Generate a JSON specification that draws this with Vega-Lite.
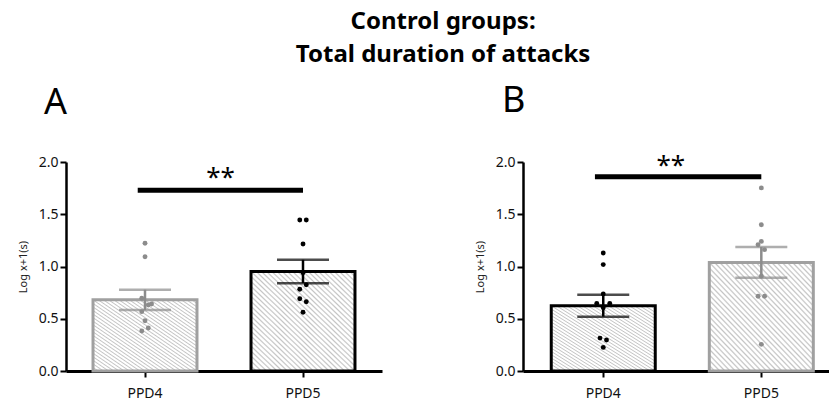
{
  "$schema": "https://vega.github.io/schema/vega-lite/v6.json",
  "background": "white",
  "padding": {"left": 17, "top": 10, "right": 0, "bottom": 0},
  "config": {
    "font": "Noto Sans",
    "view": {"stroke": null},
    "axis": {
      "grid": false,
      "domainColor": "#000000",
      "tickColor": "#000000",
      "labelColor": "#111111",
      "labelFont": "Noto Sans",
      "labelFontSize": 14,
      "titleFont": "Noto Sans",
      "titleFontSize": 11,
      "titleFontWeight": "normal",
      "titleColor": "#222222"
    },
    "bar": {
      "fill": {
        "gradient": "linear",
        "x1": 0, "y1": 1, "x2": 1, "y2": 0,
        "stops": [
          {"offset": 0, "color": "#c4c4c4"}, {"offset": 0.008, "color": "#ffffff"}, {"offset": 0.017, "color": "#ffffff"},
          {"offset": 0.025, "color": "#c4c4c4"}, {"offset": 0.033, "color": "#ffffff"}, {"offset": 0.042, "color": "#ffffff"},
          {"offset": 0.05, "color": "#c4c4c4"}, {"offset": 0.058, "color": "#ffffff"}, {"offset": 0.067, "color": "#ffffff"},
          {"offset": 0.075, "color": "#c4c4c4"}, {"offset": 0.083, "color": "#ffffff"}, {"offset": 0.092, "color": "#ffffff"},
          {"offset": 0.1, "color": "#c4c4c4"}, {"offset": 0.108, "color": "#ffffff"}, {"offset": 0.117, "color": "#ffffff"},
          {"offset": 0.125, "color": "#c4c4c4"}, {"offset": 0.133, "color": "#ffffff"}, {"offset": 0.142, "color": "#ffffff"},
          {"offset": 0.15, "color": "#c4c4c4"}, {"offset": 0.158, "color": "#ffffff"}, {"offset": 0.167, "color": "#ffffff"},
          {"offset": 0.175, "color": "#c4c4c4"}, {"offset": 0.183, "color": "#ffffff"}, {"offset": 0.192, "color": "#ffffff"},
          {"offset": 0.2, "color": "#c4c4c4"}, {"offset": 0.208, "color": "#ffffff"}, {"offset": 0.217, "color": "#ffffff"},
          {"offset": 0.225, "color": "#c4c4c4"}, {"offset": 0.233, "color": "#ffffff"}, {"offset": 0.242, "color": "#ffffff"},
          {"offset": 0.25, "color": "#c4c4c4"}, {"offset": 0.258, "color": "#ffffff"}, {"offset": 0.267, "color": "#ffffff"},
          {"offset": 0.275, "color": "#c4c4c4"}, {"offset": 0.283, "color": "#ffffff"}, {"offset": 0.292, "color": "#ffffff"},
          {"offset": 0.3, "color": "#c4c4c4"}, {"offset": 0.308, "color": "#ffffff"}, {"offset": 0.317, "color": "#ffffff"},
          {"offset": 0.325, "color": "#c4c4c4"}, {"offset": 0.333, "color": "#ffffff"}, {"offset": 0.342, "color": "#ffffff"},
          {"offset": 0.35, "color": "#c4c4c4"}, {"offset": 0.358, "color": "#ffffff"}, {"offset": 0.367, "color": "#ffffff"},
          {"offset": 0.375, "color": "#c4c4c4"}, {"offset": 0.383, "color": "#ffffff"}, {"offset": 0.392, "color": "#ffffff"},
          {"offset": 0.4, "color": "#c4c4c4"}, {"offset": 0.408, "color": "#ffffff"}, {"offset": 0.417, "color": "#ffffff"},
          {"offset": 0.425, "color": "#c4c4c4"}, {"offset": 0.433, "color": "#ffffff"}, {"offset": 0.442, "color": "#ffffff"},
          {"offset": 0.45, "color": "#c4c4c4"}, {"offset": 0.458, "color": "#ffffff"}, {"offset": 0.467, "color": "#ffffff"},
          {"offset": 0.475, "color": "#c4c4c4"}, {"offset": 0.483, "color": "#ffffff"}, {"offset": 0.492, "color": "#ffffff"},
          {"offset": 0.5, "color": "#c4c4c4"}, {"offset": 0.508, "color": "#ffffff"}, {"offset": 0.517, "color": "#ffffff"},
          {"offset": 0.525, "color": "#c4c4c4"}, {"offset": 0.533, "color": "#ffffff"}, {"offset": 0.542, "color": "#ffffff"},
          {"offset": 0.55, "color": "#c4c4c4"}, {"offset": 0.558, "color": "#ffffff"}, {"offset": 0.567, "color": "#ffffff"},
          {"offset": 0.575, "color": "#c4c4c4"}, {"offset": 0.583, "color": "#ffffff"}, {"offset": 0.592, "color": "#ffffff"},
          {"offset": 0.6, "color": "#c4c4c4"}, {"offset": 0.608, "color": "#ffffff"}, {"offset": 0.617, "color": "#ffffff"},
          {"offset": 0.625, "color": "#c4c4c4"}, {"offset": 0.633, "color": "#ffffff"}, {"offset": 0.642, "color": "#ffffff"},
          {"offset": 0.65, "color": "#c4c4c4"}, {"offset": 0.658, "color": "#ffffff"}, {"offset": 0.667, "color": "#ffffff"},
          {"offset": 0.675, "color": "#c4c4c4"}, {"offset": 0.683, "color": "#ffffff"}, {"offset": 0.692, "color": "#ffffff"},
          {"offset": 0.7, "color": "#c4c4c4"}, {"offset": 0.708, "color": "#ffffff"}, {"offset": 0.717, "color": "#ffffff"},
          {"offset": 0.725, "color": "#c4c4c4"}, {"offset": 0.733, "color": "#ffffff"}, {"offset": 0.742, "color": "#ffffff"},
          {"offset": 0.75, "color": "#c4c4c4"}, {"offset": 0.758, "color": "#ffffff"}, {"offset": 0.767, "color": "#ffffff"},
          {"offset": 0.775, "color": "#c4c4c4"}, {"offset": 0.783, "color": "#ffffff"}, {"offset": 0.792, "color": "#ffffff"},
          {"offset": 0.8, "color": "#c4c4c4"}, {"offset": 0.808, "color": "#ffffff"}, {"offset": 0.817, "color": "#ffffff"},
          {"offset": 0.825, "color": "#c4c4c4"}, {"offset": 0.833, "color": "#ffffff"}, {"offset": 0.842, "color": "#ffffff"},
          {"offset": 0.85, "color": "#c4c4c4"}, {"offset": 0.858, "color": "#ffffff"}, {"offset": 0.867, "color": "#ffffff"},
          {"offset": 0.875, "color": "#c4c4c4"}, {"offset": 0.883, "color": "#ffffff"}, {"offset": 0.892, "color": "#ffffff"},
          {"offset": 0.9, "color": "#c4c4c4"}, {"offset": 0.908, "color": "#ffffff"}, {"offset": 0.917, "color": "#ffffff"},
          {"offset": 0.925, "color": "#c4c4c4"}, {"offset": 0.933, "color": "#ffffff"}, {"offset": 0.942, "color": "#ffffff"},
          {"offset": 0.95, "color": "#c4c4c4"}, {"offset": 0.958, "color": "#ffffff"}, {"offset": 0.967, "color": "#ffffff"},
          {"offset": 0.975, "color": "#c4c4c4"}, {"offset": 0.983, "color": "#ffffff"}, {"offset": 0.992, "color": "#ffffff"},
          {"offset": 1, "color": "#c4c4c4"}
        ]
      }
    }
  },
  "datasets": {
    "pts": [
      {"panel": "A", "day": "PPD4", "group": "G1", "slot": 0, "v": 1.222},
      {"panel": "A", "day": "PPD4", "group": "G1", "slot": 0, "v": 1.094},
      {"panel": "A", "day": "PPD4", "group": "G1", "slot": -1, "v": 0.696},
      {"panel": "A", "day": "PPD4", "group": "G1", "slot": 1, "v": 0.632},
      {"panel": "A", "day": "PPD4", "group": "G1", "slot": 2, "v": 0.641},
      {"panel": "A", "day": "PPD4", "group": "G1", "slot": -1, "v": 0.568},
      {"panel": "A", "day": "PPD4", "group": "G1", "slot": 0, "v": 0.481},
      {"panel": "A", "day": "PPD4", "group": "G1", "slot": 1, "v": 0.411},
      {"panel": "A", "day": "PPD4", "group": "G1", "slot": -1, "v": 0.383},
      {"panel": "A", "day": "PPD5", "group": "G2", "slot": -1, "v": 1.445},
      {"panel": "A", "day": "PPD5", "group": "G2", "slot": 1, "v": 1.445},
      {"panel": "A", "day": "PPD5", "group": "G2", "slot": 0, "v": 1.215},
      {"panel": "A", "day": "PPD5", "group": "G2", "slot": 0, "v": 0.941},
      {"panel": "A", "day": "PPD5", "group": "G2", "slot": 1, "v": 0.826},
      {"panel": "A", "day": "PPD5", "group": "G2", "slot": -1, "v": 0.782},
      {"panel": "A", "day": "PPD5", "group": "G2", "slot": -1, "v": 0.692},
      {"panel": "A", "day": "PPD5", "group": "G2", "slot": 1, "v": 0.663},
      {"panel": "A", "day": "PPD5", "group": "G2", "slot": 0, "v": 0.562},
      {"panel": "B", "day": "PPD4", "group": "G2", "slot": 0, "v": 1.129},
      {"panel": "B", "day": "PPD4", "group": "G2", "slot": 0, "v": 1.018},
      {"panel": "B", "day": "PPD4", "group": "G2", "slot": 0, "v": 0.738},
      {"panel": "B", "day": "PPD4", "group": "G2", "slot": -2, "v": 0.646},
      {"panel": "B", "day": "PPD4", "group": "G2", "slot": 2, "v": 0.646},
      {"panel": "B", "day": "PPD4", "group": "G2", "slot": 0, "v": 0.605},
      {"panel": "B", "day": "PPD4", "group": "G2", "slot": -1, "v": 0.315},
      {"panel": "B", "day": "PPD4", "group": "G2", "slot": 1, "v": 0.296},
      {"panel": "B", "day": "PPD4", "group": "G2", "slot": 0, "v": 0.226},
      {"panel": "B", "day": "PPD5", "group": "G1", "slot": 0, "v": 1.752},
      {"panel": "B", "day": "PPD5", "group": "G1", "slot": 0, "v": 1.399},
      {"panel": "B", "day": "PPD5", "group": "G1", "slot": 0, "v": 1.240},
      {"panel": "B", "day": "PPD5", "group": "G1", "slot": -1, "v": 1.208},
      {"panel": "B", "day": "PPD5", "group": "G1", "slot": 1, "v": 1.161},
      {"panel": "B", "day": "PPD5", "group": "G1", "slot": 0, "v": 0.906},
      {"panel": "B", "day": "PPD5", "group": "G1", "slot": -1, "v": 0.715},
      {"panel": "B", "day": "PPD5", "group": "G1", "slot": 1, "v": 0.715},
      {"panel": "B", "day": "PPD5", "group": "G1", "slot": 0, "v": 0.255}
    ],
    "sig": [
      {"panel": "A", "from": "PPD4", "to": "PPD5", "line": 1.73, "mark_y": 1.775, "label": "**"},
      {"panel": "B", "from": "PPD4", "to": "PPD5", "line": 1.86, "mark_y": 1.884, "label": "**"}
    ]
  },
  "title": {
    "text": ["Control groups:", "Total duration of attacks"],
    "fontSize": 24,
    "fontWeight": "bold",
    "lineHeight": 33,
    "anchor": "middle",
    "color": "#000000",
    "dx": 20,
    "offset": 16
  },
  "spacing": 92,
  "hconcat": [
    {
      "width": 316,
      "height": 209,
      "title": {"text": "A", "fontSize": 36, "fontWeight": "normal", "anchor": "start", "frame": "group", "dx": -22, "offset": 33, "color": "#000000"},
      "encoding": {
        "x": {
          "field": "day", "type": "nominal",
          "scale": {"domain": ["PPD4", "PPD5"], "paddingInner": 0.342, "paddingOuter": 0.171, "align": 0.5, "round": false},
          "axis": {"title": null, "labelAngle": 0, "domainWidth": 3, "tickSize": 6, "tickWidth": 2, "labelPadding": 9, "labelFontSize": 14}
        }
      },
      "resolve": {"scale": {"xOffset": "independent"}},
      "layer": [
        {
          "data": {"name": "pts"},
          "transform": [{"filter": "datum.panel === 'A'"}],
          "mark": {"type": "bar", "strokeWidth": 3},
          "encoding": {
            "y": {"aggregate": "mean", "field": "v", "type": "quantitative", "title": "Log x+1(s)",
                  "scale": {"domain": [0, 2], "nice": false},
                  "axis": {"values": [0, 0.5, 1, 1.5, 2], "format": ".1f", "domainWidth": 2.5, "tickSize": 6, "tickWidth": 2, "labelPadding": 2, "titlePadding": 10, "labelFontSize": 14}},
            "stroke": {"field": "group", "type": "nominal", "scale": {"domain": ["G1", "G2"], "range": ["#a0a0a0", "#000000"]}, "legend": null}
          }
        },
        {
          "data": {"name": "pts"},
          "transform": [{"filter": "datum.panel === 'A'"}],
          "mark": {"type": "errorbar", "extent": "stderr", "ticks": {"size": 52, "thickness": 2.5}, "rule": {"strokeWidth": 2.5}},
          "encoding": {
            "y": {"field": "v", "type": "quantitative", "title": "Log x+1(s)"},
            "color": {"field": "group", "type": "nominal", "scale": {"domain": ["G1", "G2"], "range": ["#8c8c8c", "#000000"]}, "legend": null}
          }
        },
        {
          "data": {"name": "pts"},
          "transform": [{"filter": "datum.panel === 'A'"}],
          "mark": {"type": "circle", "size": 24, "opacity": 1},
          "encoding": {
            "y": {"field": "v", "type": "quantitative", "title": "Log x+1(s)"},
            "xOffset": {"field": "slot", "type": "quantitative", "scale": {"domain": [-2, 2], "range": [45.5, 58.5], "zero": false, "nice": false}},
            "color": {"field": "group", "type": "nominal", "scale": {"domain": ["G1", "G2"], "range": ["#8c8c8c", "#000000"]}, "legend": null}
          }
        },
        {
          "data": {"name": "sig"},
          "transform": [{"filter": "datum.panel === 'A'"}],
          "mark": {"type": "rule", "strokeWidth": 5, "color": "#000000"},
          "encoding": {
            "x": {"field": "from", "type": "nominal", "bandPosition": 0.43},
            "x2": {"field": "to"},
            "y": {"field": "line", "type": "quantitative", "title": "Log x+1(s)"}
          }
        },
        {
          "data": {"name": "sig"},
          "transform": [{"filter": "datum.panel === 'A'"}],
          "mark": {"type": "text", "fontSize": 26, "baseline": "alphabetic", "align": "center", "color": "#000000"},
          "encoding": {
            "x": {"field": "from", "type": "nominal", "bandPosition": 1.226},
            "y": {"field": "mark_y", "type": "quantitative", "title": "Log x+1(s)"},
            "text": {"field": "label"}
          }
        }
      ]
    },
    {
      "width": 306,
      "height": 209,
      "title": {"text": "B", "fontSize": 36, "fontWeight": "normal", "anchor": "start", "frame": "group", "dx": -21, "offset": 33, "color": "#000000"},
      "encoding": {
        "x": {
          "field": "day", "type": "nominal",
          "scale": {"domain": ["PPD4", "PPD5"], "paddingInner": 0.342, "paddingOuter": 0.139, "align": 0.643, "round": false},
          "axis": {"title": null, "labelAngle": 0, "domainWidth": 3, "tickSize": 6, "tickWidth": 2, "labelPadding": 9, "labelFontSize": 14}
        }
      },
      "resolve": {"scale": {"xOffset": "independent"}},
      "layer": [
        {
          "data": {"name": "pts"},
          "transform": [{"filter": "datum.panel === 'B'"}],
          "mark": {"type": "bar", "strokeWidth": 3},
          "encoding": {
            "y": {"aggregate": "mean", "field": "v", "type": "quantitative", "title": "Log x+1(s)",
                  "scale": {"domain": [0, 2], "nice": false},
                  "axis": {"values": [0, 0.5, 1, 1.5, 2], "format": ".1f", "domainWidth": 2.5, "tickSize": 6, "tickWidth": 2, "labelPadding": 2, "titlePadding": 10, "labelFontSize": 14}},
            "stroke": {"field": "group", "type": "nominal", "scale": {"domain": ["G1", "G2"], "range": ["#a0a0a0", "#000000"]}, "legend": null}
          }
        },
        {
          "data": {"name": "pts"},
          "transform": [{"filter": "datum.panel === 'B'"}],
          "mark": {"type": "errorbar", "extent": "stderr", "ticks": {"size": 52, "thickness": 2.5}, "rule": {"strokeWidth": 2.5}},
          "encoding": {
            "y": {"field": "v", "type": "quantitative", "title": "Log x+1(s)"},
            "color": {"field": "group", "type": "nominal", "scale": {"domain": ["G1", "G2"], "range": ["#8c8c8c", "#000000"]}, "legend": null}
          }
        },
        {
          "data": {"name": "pts"},
          "transform": [{"filter": "datum.panel === 'B'"}],
          "mark": {"type": "circle", "size": 24, "opacity": 1},
          "encoding": {
            "y": {"field": "v", "type": "quantitative", "title": "Log x+1(s)"},
            "xOffset": {"field": "slot", "type": "quantitative", "scale": {"domain": [-2, 2], "range": [45.5, 58.5], "zero": false, "nice": false}},
            "color": {"field": "group", "type": "nominal", "scale": {"domain": ["G1", "G2"], "range": ["#8c8c8c", "#000000"]}, "legend": null}
          }
        },
        {
          "data": {"name": "sig"},
          "transform": [{"filter": "datum.panel === 'B'"}],
          "mark": {"type": "rule", "strokeWidth": 5, "color": "#000000"},
          "encoding": {
            "x": {"field": "from", "type": "nominal", "bandPosition": 0.42},
            "x2": {"field": "to"},
            "y": {"field": "line", "type": "quantitative", "title": "Log x+1(s)"}
          }
        },
        {
          "data": {"name": "sig"},
          "transform": [{"filter": "datum.panel === 'B'"}],
          "mark": {"type": "text", "fontSize": 26, "baseline": "alphabetic", "align": "center", "color": "#000000"},
          "encoding": {
            "x": {"field": "from", "type": "nominal", "bandPosition": 1.149},
            "y": {"field": "mark_y", "type": "quantitative", "title": "Log x+1(s)"},
            "text": {"field": "label"}
          }
        }
      ]
    }
  ]
}
